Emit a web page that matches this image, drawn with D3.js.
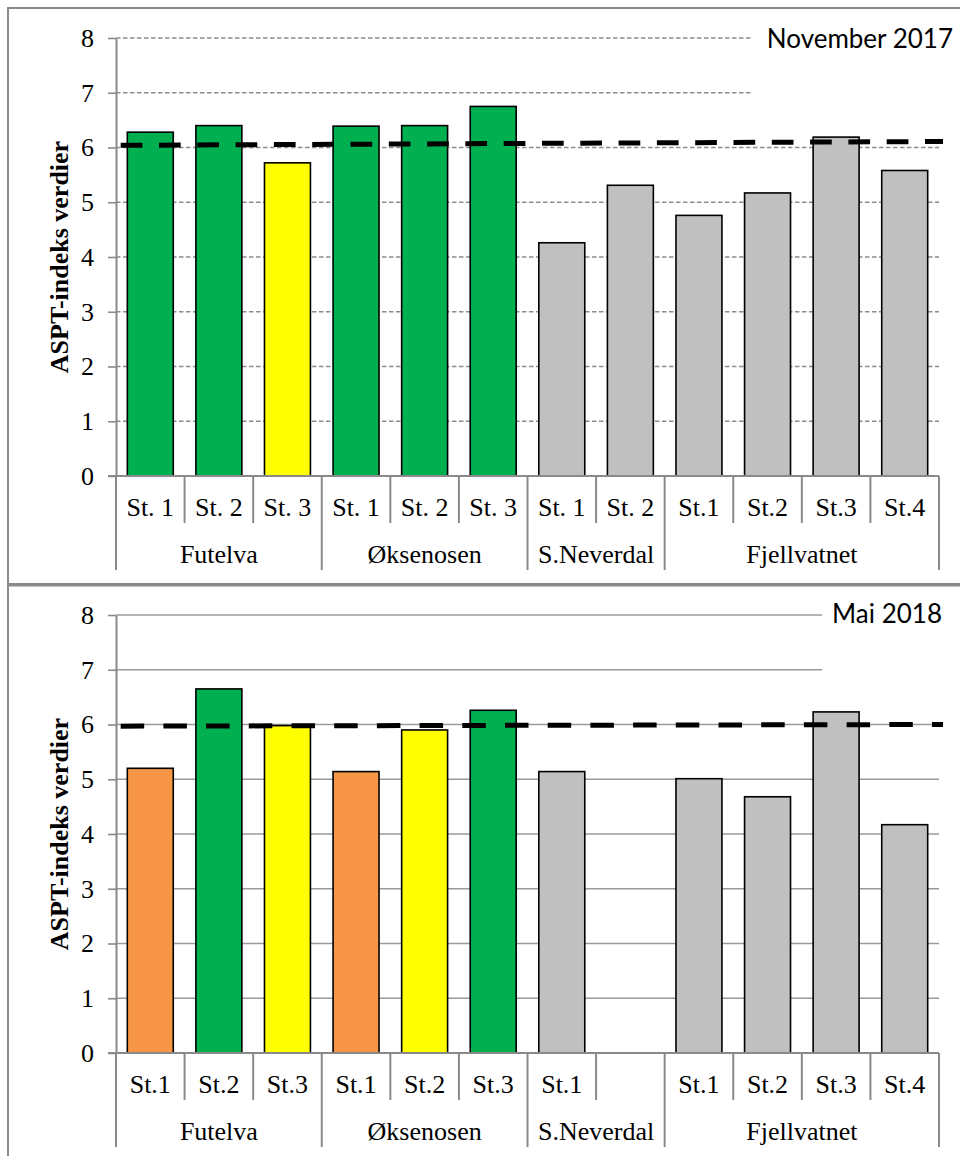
<!DOCTYPE html>
<html>
<head>
<meta charset="utf-8">
<script src="https://cdn.jsdelivr.net/npm/d3@7"></script>
<style>
  html, body { margin: 0; padding: 0; background: #fff; }
  svg { display: block; }
</style>
</head>
<body>
<script>
// ASPT index per station, two sampling rounds
const groups = ["Futelva", "Øksenosen", "S.Neverdal", "Fjellvatnet"];
const groupSizes = [3, 3, 2, 4];

const stations2017 = ["St. 1", "St. 2", "St. 3", "St. 1", "St. 2", "St. 3", "St. 1", "St. 2", "St.1", "St.2", "St.3", "St.4"];
const values2017 = [6.28, 6.40, 5.72, 6.39, 6.40, 6.75, 4.26, 5.31, 4.76, 5.17, 6.19, 5.58];
const status2017 = ["god", "god", "moderat", "god", "god", "god", "ikke", "ikke", "ikke", "ikke", "ikke", "ikke"];
const ref2017 = [6.04, 6.11];

const stations2018 = ["St.1", "St.2", "St.3", "St.1", "St.2", "St.3", "St.1", "", "St.1", "St.2", "St.3", "St.4"];
const values2018 = [5.20, 6.65, 5.98, 5.14, 5.90, 6.26, 5.14, null, 5.01, 4.68, 6.23, 4.17];
const status2018 = ["dårlig", "god", "moderat", "dårlig", "moderat", "god", "ikke", "ikke", "ikke", "ikke", "ikke", "ikke"];
const ref2018 = [5.97, 6.00];

const yTicks = [0, 1, 2, 3, 4, 5, 6, 7, 8];
const yTitle = "ASPT-indeks verdier";

const statusColor = {
  "god": "#00B050",
  "moderat": "#FFFF00",
  "dårlig": "#F79646",
  "ikke": "#C0C0C0"
};

const W = 960, H = 1156;
const serif = "'Liberation Serif', 'Times New Roman', serif";
const sans = "Lato, 'Open Sans', sans-serif";
const axisGray = "#8a8a8a";

const svg = d3.select("body").append("svg")
  .attr("width", W).attr("height", H);

// panel frames
svg.append("rect").attr("x", 8).attr("y", 8).attr("width", W).attr("height", 576)
  .attr("fill", "none").attr("stroke", axisGray).attr("stroke-width", 2);
svg.append("rect").attr("x", 8).attr("y", 585.5).attr("width", W).attr("height", 600)
  .attr("fill", "none").attr("stroke", axisGray).attr("stroke-width", 2);

const panels = [
  {
    title: "November 2017", stations: stations2017, values: values2017, status: status2017, ref: ref2017,
    top: 38, bottom: 476, gridDash: "4.5,2.5",
    titleRight: 953, titleBase: 48, titleBox: [752, 20, 110],
    refDash: "21.7,16.6"
  },
  {
    title: "Mai 2018", stations: stations2018, values: values2018, status: status2018, ref: ref2018,
    top: 615, bottom: 1053, gridDash: null,
    titleRight: 942, titleBase: 623, titleBox: [822, 597, 690],
    refDash: "23.5,19.2"
  }
];

const left = 116, right = 939;

panels.forEach(p => {
  const g = svg.append("g");
  const idx = d3.range(p.values.length);
  const x = d3.scaleBand().domain(idx).range([left, right]).padding(0);
  const y = d3.scaleLinear().domain([0, 8]).range([p.bottom, p.top]);
  const bw = x.bandwidth() * 0.67;

  // gridlines
  g.append("g").selectAll("line").data(yTicks.filter(t => t > 0)).join("line")
    .attr("x1", left).attr("x2", right)
    .attr("y1", d => y(d)).attr("y2", d => y(d))
    .attr("stroke", p.gridDash ? "#8c8c8c" : "#9a9a9a")
    .attr("stroke-width", p.gridDash ? 1.6 : 1.4)
    .attr("stroke-dasharray", p.gridDash);

  // title box hides gridlines behind the period label
  g.append("rect")
    .attr("x", p.titleBox[0]).attr("y", p.titleBox[1])
    .attr("width", W - p.titleBox[0] - 2).attr("height", p.titleBox[2] - p.titleBox[1])
    .attr("fill", "#fff");
  g.append("text")
    .attr("x", p.titleRight).attr("y", p.titleBase)
    .attr("text-anchor", "end")
    .attr("font-family", sans).attr("font-size", 26)
    .attr("fill", "#000")
    .text(p.title);

  // bars
  g.append("g").selectAll("rect").data(idx.filter(i => p.values[i] != null)).join("rect")
    .attr("x", i => x(i) + (x.bandwidth() - bw) / 2)
    .attr("width", bw)
    .attr("y", i => y(p.values[i]))
    .attr("height", i => y(0) - y(p.values[i]))
    .attr("fill", i => statusColor[p.status[i]])
    .attr("stroke", "#000").attr("stroke-width", 1.6);

  // y axis
  const yAxis = g.append("g").attr("transform", `translate(${left},0)`)
    .call(d3.axisLeft(y).tickValues(yTicks).tickSize(8).tickSizeOuter(0).tickPadding(14));
  yAxis.select(".domain").attr("stroke", axisGray).attr("stroke-width", 2);
  yAxis.selectAll(".tick line").attr("stroke", axisGray).attr("stroke-width", 1.6);
  yAxis.selectAll(".tick text")
    .attr("font-family", serif).attr("font-size", 26).attr("fill", "#000");

  // x axis baseline
  g.append("line").attr("x1", left - 8).attr("x2", right)
    .attr("y1", y(0)).attr("y2", y(0))
    .attr("stroke", axisGray).attr("stroke-width", 2);

  // category separators: short between stations, long between groups
  const groupStarts = [0];
  groupSizes.forEach((s, i) => groupStarts.push(groupStarts[i] + s));
  const bounds = d3.range(p.values.length + 1);
  const xb = i => i < p.values.length ? x(i) : right;
  g.append("g").selectAll("line").data(bounds).join("line")
    .attr("x1", xb).attr("x2", xb)
    .attr("y1", y(0))
    .attr("y2", i => y(0) + (groupStarts.includes(i) ? 94 : 47))
    .attr("stroke", axisGray).attr("stroke-width", 2);

  // station labels
  g.append("g").selectAll("text").data(idx).join("text")
    .attr("x", i => x(i) + x.bandwidth() / 2)
    .attr("y", y(0) + 40)
    .attr("text-anchor", "middle")
    .attr("font-family", serif).attr("font-size", 26).attr("fill", "#000")
    .text(i => p.stations[i]);

  // group labels
  g.append("g").selectAll("text").data(groups).join("text")
    .attr("x", (d, gi) => (xb(groupStarts[gi]) + xb(groupStarts[gi + 1])) / 2)
    .attr("y", y(0) + 87)
    .attr("text-anchor", "middle")
    .attr("font-family", serif).attr("font-size", 26).attr("fill", "#000")
    .text(d => d);

  // reference level
  const rx = d3.scaleLinear().domain([0, 1]).range([left + 4.7, right + 4]);
  g.append("line")
    .attr("x1", rx(0)).attr("x2", rx(1))
    .attr("y1", y(p.ref[0])).attr("y2", y(p.ref[1]))
    .attr("stroke", "#000").attr("stroke-width", 5)
    .attr("stroke-dasharray", p.refDash);

  // y axis title
  g.append("text")
    .attr("transform", `translate(68,${(p.top + p.bottom) / 2}) rotate(-90)`)
    .attr("text-anchor", "middle")
    .attr("font-family", serif).attr("font-size", 26).attr("font-weight", "bold")
    .attr("fill", "#000")
    .text(yTitle);
});
</script>
</body>
</html>
